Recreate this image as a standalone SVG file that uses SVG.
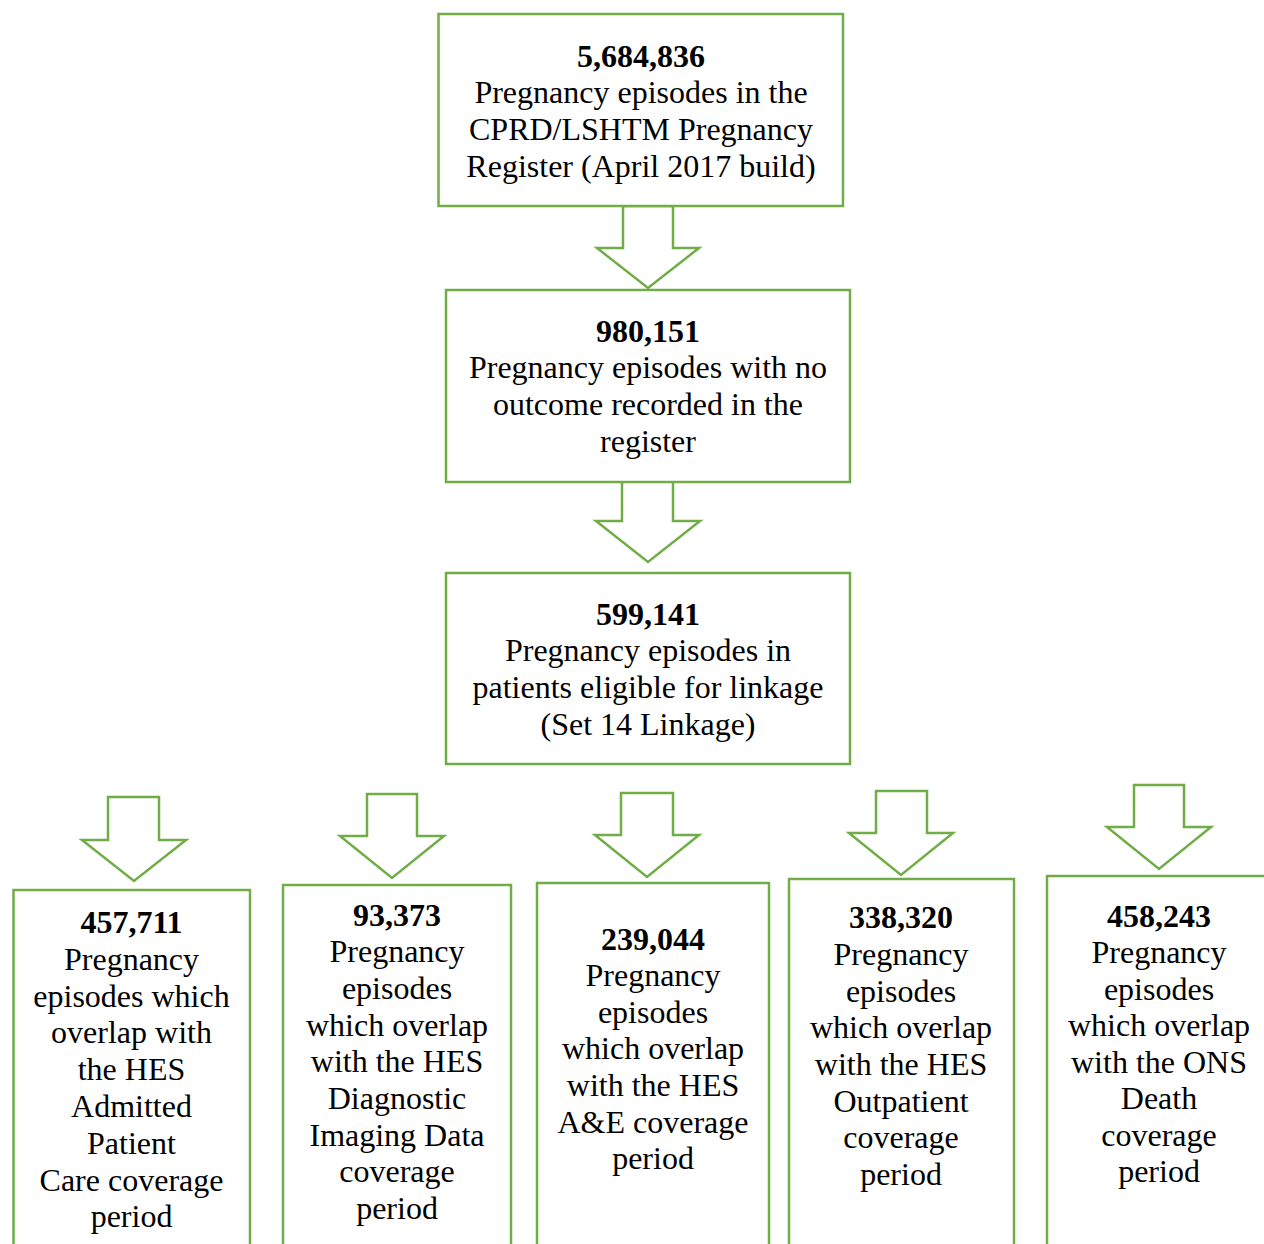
<svg xmlns="http://www.w3.org/2000/svg" width="1264" height="1244" viewBox="0 0 1264 1244">
<style>
.box{fill:#fff;stroke:#70AD47;stroke-width:2.5}
.arr{fill:#fff;stroke:#70AD47;stroke-width:2.5;stroke-linejoin:miter}
text{font-family:"Liberation Serif","Times New Roman",serif;font-size:32px;fill:#000;text-anchor:middle}
.num{font-weight:bold}
</style>
<rect width="1264" height="1244" fill="#fff"/>
<g id="connectors">
<polygon class="arr" points="623,206 673,206 673,248 699,248 648,288 597,248 623,248"/>
<polygon class="arr" points="622,479 673,479 673,521 700,521 648,562 596,521 622,521"/>
<polygon class="arr" points="108,797 159,797 159,840 186,840 134,881 82,840 108,840"/>
<polygon class="arr" points="367,794 417,794 417,836 444,836 392,878 340,836 367,836"/>
<polygon class="arr" points="621,793 673,793 673,835 699,835 647,877 595,835 621,835"/>
<polygon class="arr" points="876,791 927,791 927,833 953,833 901,875 849,833 876,833"/>
<polygon class="arr" points="1134,785 1184,785 1184,827 1211,827 1159,869 1107,827 1134,827"/>
</g>
<g id="n1">
<rect class="box" x="438.5" y="14" width="404.5" height="192"/>
<text x="641" y="67" class="num">5,684,836</text>
<text x="641" y="103">Pregnancy episodes in the</text>
<text x="641" y="140">CPRD/LSHTM Pregnancy</text>
<text x="641" y="177">Register (April 2017 build)</text>
</g>
<g id="n2">
<rect class="box" x="446" y="290" width="404" height="192"/>
<text x="648" y="342" class="num">980,151</text>
<text x="648" y="378">Pregnancy episodes with no</text>
<text x="648" y="415">outcome recorded in the</text>
<text x="648" y="452">register</text>
</g>
<g id="n3">
<rect class="box" x="446" y="573" width="404" height="191"/>
<text x="648" y="625" class="num">599,141</text>
<text x="648" y="661">Pregnancy episodes in</text>
<text x="648" y="698">patients eligible for linkage</text>
<text x="648" y="735">(Set 14 Linkage)</text>
</g>
<g id="n4">
<rect class="box" x="13.5" y="890" width="236.5" height="380"/>
<text x="131.5" y="933" class="num">457,711</text>
<text x="131.5" y="970">Pregnancy</text>
<text x="131.5" y="1007">episodes which</text>
<text x="131.5" y="1043">overlap with</text>
<text x="131.5" y="1080">the HES</text>
<text x="131.5" y="1117">Admitted</text>
<text x="131.5" y="1154">Patient</text>
<text x="131.5" y="1191">Care coverage</text>
<text x="131.5" y="1227">period</text>
</g>
<g id="n5">
<rect class="box" x="283" y="885" width="228" height="385"/>
<text x="397" y="926" class="num">93,373</text>
<text x="397" y="962">Pregnancy</text>
<text x="397" y="999">episodes</text>
<text x="397" y="1036">which overlap</text>
<text x="397" y="1072">with the HES</text>
<text x="397" y="1109">Diagnostic</text>
<text x="397" y="1146">Imaging Data</text>
<text x="397" y="1182">coverage</text>
<text x="397" y="1219">period</text>
</g>
<g id="n6">
<rect class="box" x="537" y="883" width="232" height="387"/>
<text x="653" y="950" class="num">239,044</text>
<text x="653" y="986">Pregnancy</text>
<text x="653" y="1023">episodes</text>
<text x="653" y="1059">which overlap</text>
<text x="653" y="1096">with the HES</text>
<text x="653" y="1133">A&amp;E coverage</text>
<text x="653" y="1169">period</text>
</g>
<g id="n7">
<rect class="box" x="789" y="879" width="225" height="391"/>
<text x="901" y="928" class="num">338,320</text>
<text x="901" y="965">Pregnancy</text>
<text x="901" y="1002">episodes</text>
<text x="901" y="1038">which overlap</text>
<text x="901" y="1075">with the HES</text>
<text x="901" y="1112">Outpatient</text>
<text x="901" y="1148">coverage</text>
<text x="901" y="1185">period</text>
</g>
<g id="n8">
<rect class="box" x="1047" y="876" width="230" height="394"/>
<text x="1159" y="927" class="num">458,243</text>
<text x="1159" y="963">Pregnancy</text>
<text x="1159" y="1000">episodes</text>
<text x="1159" y="1036">which overlap</text>
<text x="1159" y="1073">with the ONS</text>
<text x="1159" y="1109">Death</text>
<text x="1159" y="1146">coverage</text>
<text x="1159" y="1182">period</text>
</g>
</svg>
